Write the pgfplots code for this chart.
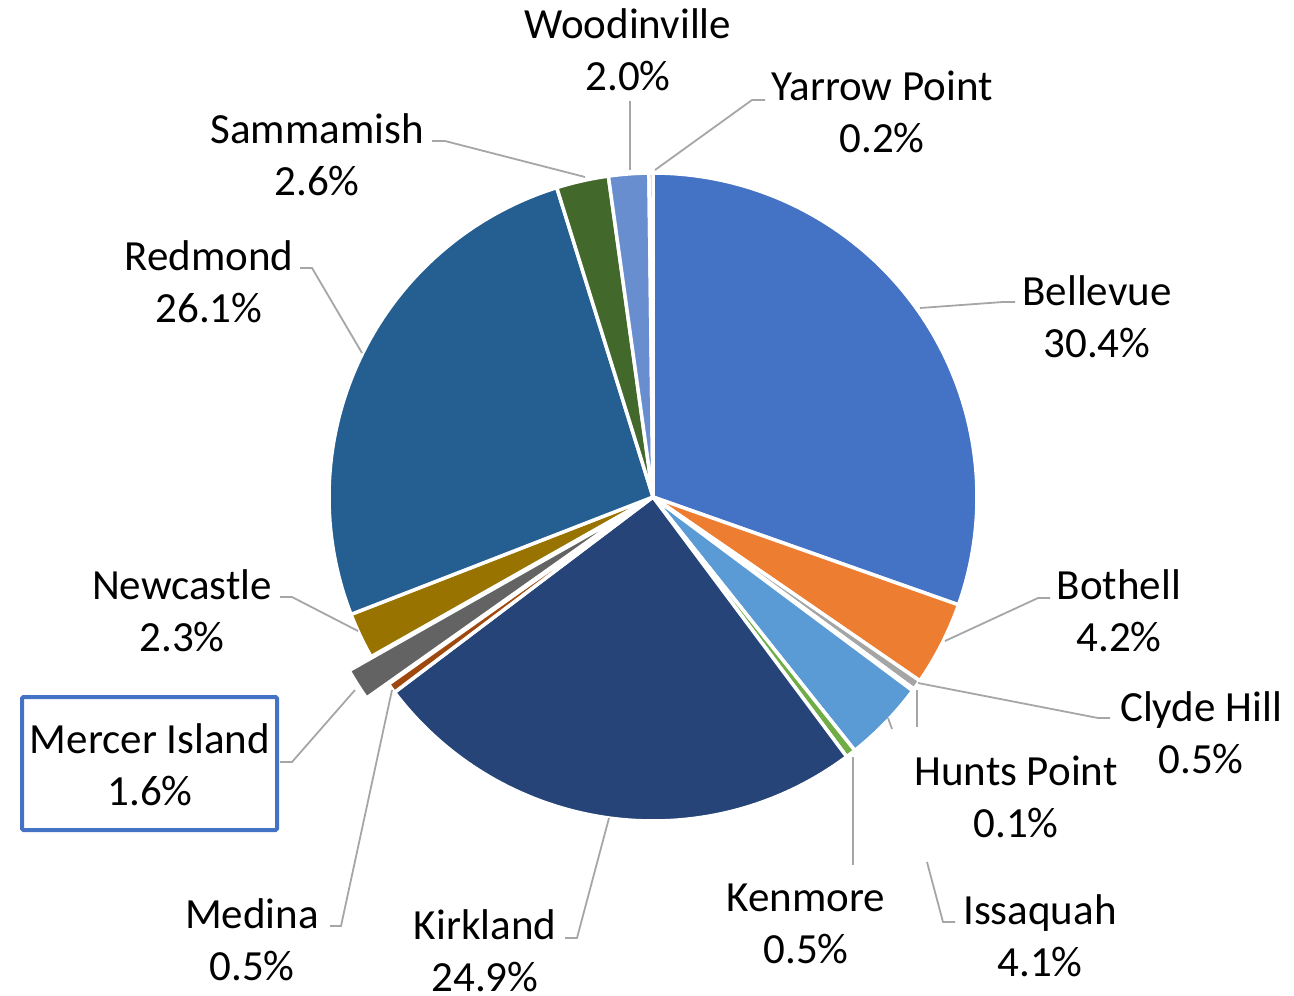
\documentclass[border=0pt]{standalone}
\usepackage{pgfplots}
\pgfplotsset{compat=1.18}
\usepackage{fontspec}
\setmainfont{Carlito}
\definecolor{cBellevue}{HTML}{4472C4}
\definecolor{cBothell}{HTML}{ED7D31}
\definecolor{cClyde}{HTML}{A5A5A5}
\definecolor{cHunts}{HTML}{FFC000}
\definecolor{cIssaquah}{HTML}{5B9BD5}
\definecolor{cKenmore}{HTML}{70AD47}
\definecolor{cKirkland}{HTML}{264478}
\definecolor{cMedina}{HTML}{9E480E}
\definecolor{cMercer}{HTML}{636363}
\definecolor{cNewcastle}{HTML}{997300}
\definecolor{cRedmond}{HTML}{255E91}
\definecolor{cSammamish}{HTML}{43682B}
\definecolor{cWoodinville}{HTML}{698ED0}
\definecolor{cYarrow}{HTML}{F1975A}
\definecolor{leadc}{HTML}{A6A6A6}
% #1 cumulative share before slice, #2 share (%), #3 colour, #4 explosion (px)
\newcommand{\slice}[4]{%
  \pgfmathsetmacro\sa{90-3.6*#1}%
  \pgfmathsetmacro\sb{90-3.6*(#1+#2)}%
  \pgfmathsetmacro\ox{653+#4*cos((\sa+\sb)/2)}%
  \pgfmathsetmacro\oy{497-#4*sin((\sa+\sb)/2)}%
  \edef\temp{\noexpand\addplot[fill=#3, draw=white, line width=3.5pt, line join=round, domain=\sb:\sa, samples=90, variable=\noexpand\t] ({\ox+324*cos(\noexpand\t)}, {\oy-324*sin(\noexpand\t)}) -- (axis cs:\ox,\oy) -- cycle;}%
  \temp
}
\tikzset{
  lbl/.style={align=center, inner sep=0pt, font=\fontsize{43}{52}\selectfont},
  lead/.style={draw=leadc, line width=1.8pt},
}
\begin{document}
\begin{tikzpicture}
\begin{axis}[
  scale only axis, width=1294pt, height=996pt,
  xmin=0, xmax=1294, ymin=0, ymax=996, y dir=reverse,
  hide axis, clip=false,
]
\slice{0}{30.4}{cBellevue}{0}
\slice{30.4}{4.2}{cBothell}{0}
\slice{34.6}{0.5}{cClyde}{0}
\slice{35.1}{0.1}{cHunts}{0}
\slice{35.2}{4.1}{cIssaquah}{0}
\slice{39.3}{0.5}{cKenmore}{0}
\slice{39.8}{24.9}{cKirkland}{0}
\slice{64.7}{0.5}{cMedina}{0}
\slice{65.2}{1.6}{cMercer}{26}
\slice{66.8}{2.3}{cNewcastle}{0}
\slice{69.1}{26.1}{cRedmond}{0}
\slice{95.2}{2.6}{cSammamish}{0}
\slice{97.8}{2.0}{cWoodinville}{0}
\slice{99.8}{0.2}{cYarrow}{0}

% leader lines
\addplot[lead, mark=none] coordinates {(630,101) (630,170)};
\addplot[lead, mark=none] coordinates {(765,100) (752,100) (655,170)};
\addplot[lead, mark=none] coordinates {(432,141) (445,141) (585,177)};
\addplot[lead, mark=none] coordinates {(300,268) (312,268) (362,353)};
\addplot[lead, mark=none] coordinates {(1015,302) (1003,302) (920,308)};
\addplot[lead, mark=none] coordinates {(1050,598) (1038,598) (945,641)};
\addplot[lead, mark=none] coordinates {(1110,718) (1098,718) (918,683)};
\addplot[lead, mark=none] coordinates {(917,690) (917,727)};
\addplot[lead, mark=none] coordinates {(888,718) (892,729)};
\addplot[lead, mark=none] coordinates {(927,862) (943,922) (955,922)};
\addplot[lead, mark=none] coordinates {(853,757) (853,865)};
\addplot[lead, mark=none] coordinates {(565,938) (577,938) (609,818)};
\addplot[lead, mark=none] coordinates {(330,926) (341,926) (392,690)};
\addplot[lead, mark=none] coordinates {(280,762) (292,762) (355,690)};
\addplot[lead, mark=none] coordinates {(280,597) (292,597) (358,631)};

% labels
\node[lbl] at (axis cs:628,50) {Woodinville\\2.0\%};
\node[lbl] at (axis cs:882,112) {Yarrow Point\\0.2\%};
\node[lbl] at (axis cs:317,155) {Sammamish\\2.6\%};
\node[lbl] at (axis cs:209,282) {Redmond\\26.1\%};
\node[lbl] at (axis cs:1097,317) {Bellevue\\30.4\%};
\node[lbl] at (axis cs:1119,611) {Bothell\\4.2\%};
\node[lbl] at (axis cs:1201,733) {Clyde Hill\\0.5\%};
\node[lbl] at (axis cs:1016,797) {Hunts Point\\0.1\%};
\node[lbl] at (axis cs:1040,936) {Issaquah\\4.1\%};
\node[lbl] at (axis cs:806,924) {Kenmore\\0.5\%};
\node[lbl] at (axis cs:485,951) {Kirkland\\24.9\%};
\node[lbl] at (axis cs:252,940) {Medina\\0.5\%};
\node[lbl] at (axis cs:182,611) {Newcastle\\2.3\%};
\draw[cBellevue, line width=4pt, rounded corners=1.5pt] (axis cs:22,697) rectangle (axis cs:277,830);
\node[lbl] at (axis cs:150,765) {Mercer Island\\1.6\%};
\end{axis}
\pgfresetboundingbox
\path[use as bounding box] (0,0) rectangle (1294pt,996pt);
\end{tikzpicture}
\end{document}
